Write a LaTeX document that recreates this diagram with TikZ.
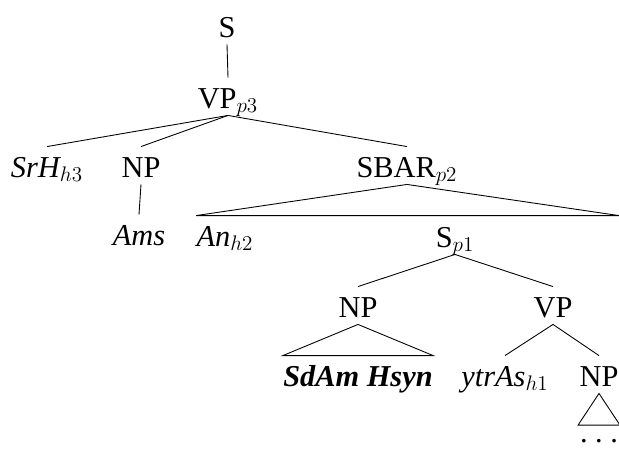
\documentclass[tikz,border=0pt]{standalone}
\usepackage{fontspec}
\setmainfont{Liberation Serif}
\usetikzlibrary{positioning}

\begin{document}
\begin{tikzpicture}[x=0.02cm,y=-0.02cm,line width=0.5pt,
    cat/.style={font=\LARGE,anchor=base,inner sep=0pt,inner ysep=0.04cm,text height=0.56cm,text depth=0.1cm},
    leaf/.style={cat,font=\LARGE\itshape},
    dotsnode/.style={font=\LARGE,anchor=base,inner sep=0.03cm,text height=0.3cm,text depth=0pt}]
  \useasboundingbox (0,0) rectangle (619,450);
  % Place nodes
  \node [cat] (s) at (227,37) {S};
  \node [cat] (vp3) at (228,108) {VP$_{p3}$};
  \node [leaf] (srh) at (47,177) {SrH$_{h3}$};
  \node [cat] (np1) at (141,177) {NP};
  \node [cat] (sbar) at (407,177) {SBAR$_{p2}$};
  \node [leaf] (ams) at (139,245) {Ams};
  \node [leaf] (an) at (225,246) {An$_{h2}$};
  \node [cat] (sp1) at (455,247) {S$_{p1}$};
  \node [cat] (np2) at (358,317) {NP};
  \node [cat] (vp) at (553,317) {VP};
  \node [leaf] (sdam) at (358,386) {\bfseries SdAm Hsyn};
  \node [leaf] (ytras) at (505,386) {ytrAs$_{h1}$};
  \node [cat] (np3) at (599,386) {NP};
  \node [dotsnode] (dots) at (599,442) {.\ .\ .};

  % Branches
  \draw (s.south) -- (vp3.north);
  \draw (vp3.south) -- (srh.north);
  \draw (vp3.south) -- (np1.north);
  \draw (vp3.south) -- (sbar.north);
  \draw (np1.south) -- (ams.north);
  \draw (sp1.south) -- (np2.north);
  \draw (sp1.south) -- (vp.north);
  \draw (vp.south) -- (ytras.north);
  \draw (vp.south) -- (np3.north);

  % Roofs
  \draw (sbar.south) -- (an.north west) -- (an.north west -| np3.east) -- cycle;
  \draw (np2.south) -- (sdam.north west) -- (sdam.north east) -- cycle;
  \draw (np3.south) -- (dots.north west) -- (dots.north east) -- cycle;
\end{tikzpicture}
\end{document}
